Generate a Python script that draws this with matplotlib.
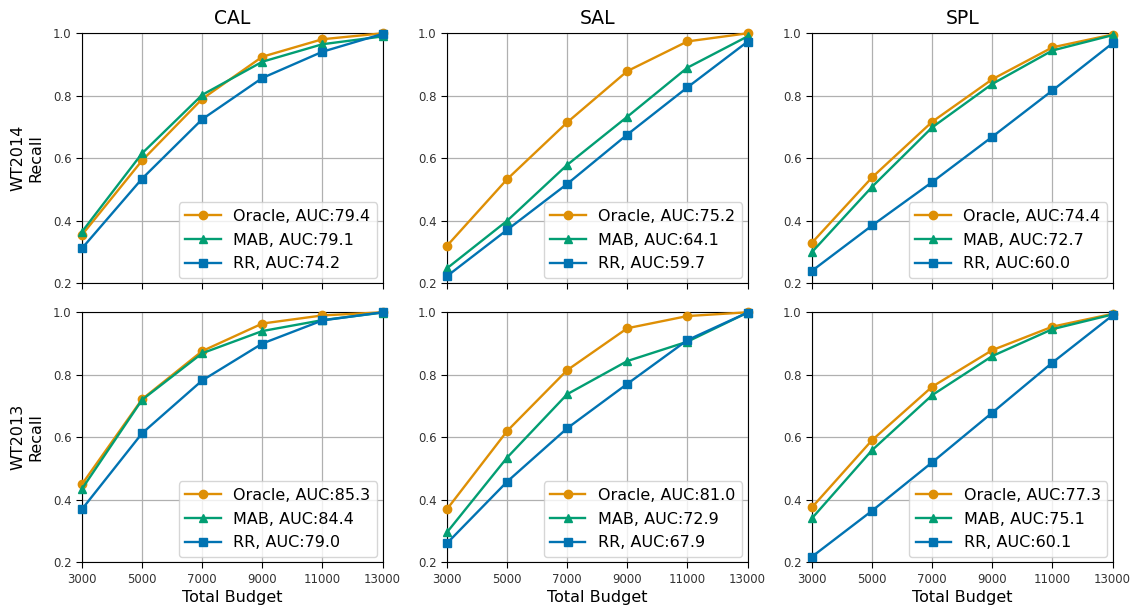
import matplotlib.pyplot as plt

# x 축 (Total Budget)
budgets = [3000, 5000, 7000, 9000, 11000, 13000]

datasets = ["WT2014", "WT2013"]
methods = ["CAL", "SAL", "SPL"]

# WT2014
oracle_2014_cal = [0.355, 0.593, 0.790, 0.925, 0.981, 1.000]
mab_2014_cal = [0.365, 0.616, 0.803, 0.909, 0.965, 0.990]
rr_2014_cal = [0.312, 0.535, 0.725, 0.857, 0.941, 0.998]

oracle_2014_sal = [0.320, 0.533, 0.715, 0.879, 0.974, 1.000]
mab_2014_sal = [0.248, 0.400, 0.579, 0.733, 0.890, 0.990]
rr_2014_sal = [0.223, 0.371, 0.518, 0.676, 0.827, 0.973]

oracle_2014_spl = [0.330, 0.539, 0.717, 0.853, 0.955, 0.996]
mab_2014_spl = [0.300, 0.509, 0.699, 0.838, 0.945, 0.994]
rr_2014_spl = [0.240, 0.385, 0.524, 0.669, 0.817, 0.968]

# WT2013
oracle_2013_cal = [0.450, 0.722, 0.876, 0.964, 0.990, 1.000]
mab_2013_cal = [0.435, 0.720, 0.869, 0.940, 0.975, 0.999]
rr_2013_cal = [0.370, 0.613, 0.782, 0.900, 0.974, 1.000]

oracle_2013_sal = [0.370, 0.620, 0.815, 0.949, 0.988, 1.000]
mab_2013_sal = [0.296, 0.535, 0.738, 0.844, 0.906, 0.999]
rr_2013_sal = [0.261, 0.458, 0.629, 0.771, 0.911, 0.999]

oracle_2013_spl = [0.376, 0.591, 0.762, 0.879, 0.954, 0.995]
mab_2013_spl = [0.341, 0.559, 0.735, 0.860, 0.946, 0.993]
rr_2013_spl = [0.218, 0.365, 0.520, 0.679, 0.839, 0.990]

# 범례에 들어가는 AUC 값
auc_2014 = {"CAL": (79.4, 79.1, 74.2), "SAL": (75.2, 64.1, 59.7), "SPL": (74.4, 72.7, 60.0)}
auc_2013 = {"CAL": (85.3, 84.4, 79.0), "SAL": (81.0, 72.9, 67.9), "SPL": (77.3, 75.1, 60.1)}

curves = {
    ("WT2014", "CAL"): (oracle_2014_cal, mab_2014_cal, rr_2014_cal),
    ("WT2014", "SAL"): (oracle_2014_sal, mab_2014_sal, rr_2014_sal),
    ("WT2014", "SPL"): (oracle_2014_spl, mab_2014_spl, rr_2014_spl),
    ("WT2013", "CAL"): (oracle_2013_cal, mab_2013_cal, rr_2013_cal),
    ("WT2013", "SAL"): (oracle_2013_sal, mab_2013_sal, rr_2013_sal),
    ("WT2013", "SPL"): (oracle_2013_spl, mab_2013_spl, rr_2013_spl),
}
aucs = {"WT2014": auc_2014, "WT2013": auc_2013}

series_names = ["Oracle", "MAB", "RR"]
series_colors = ["#de8f05", "#029e73", "#0173b2"]
series_markers = ["o", "^", "s"]

W, H = 1130, 609
fig = plt.figure(figsize=(W / 100, H / 100), dpi=100)

col_left = [82, 447, 812]
row_top = [33.3, 312.3]
ax_w, ax_h = 300.5, 250

for r, ds in enumerate(datasets):
    for c, m in enumerate(methods):
        ax = fig.add_axes([col_left[c] / W, 1 - (row_top[r] + ax_h) / H, ax_w / W, ax_h / H])
        for name, ys, color, marker, auc in zip(series_names, curves[(ds, m)], series_colors,
                                                 series_markers, aucs[ds][m]):
            ax.plot(budgets, ys, color=color, marker=marker, markersize=6, linewidth=1.7,
                    label=f"{name}, AUC:{auc}", clip_on=False, zorder=3)
        ax.set_xlim(3000, 13000)
        ax.set_ylim(0.2, 1.0)
        ax.set_xticks(budgets)
        ax.set_yticks([0.2, 0.4, 0.6, 0.8, 1.0])
        ax.grid(True, color="#b0b0b0", linewidth=0.9)
        ax.set_axisbelow(True)
        ax.tick_params(labelsize=8.5, labelcolor="#333333", color="black", length=4, direction="out")
        if r == 0:
            ax.tick_params(labelbottom=False)
            ax.set_title(m, fontsize=13.5, pad=7)
        else:
            ax.set_xlabel("Total Budget", fontsize=11.5, labelpad=3)
        if c == 0:
            ax.set_ylabel(f"{ds}\nRecall", fontsize=11.5, labelpad=7)
        leg = ax.legend(loc="lower right", fontsize=11.5, handlelength=2.2, borderaxespad=0.35,
                        labelspacing=0.55, framealpha=0.8)
        leg.get_frame().set_edgecolor("#cccccc")

fig.savefig("out.png", dpi=100)
